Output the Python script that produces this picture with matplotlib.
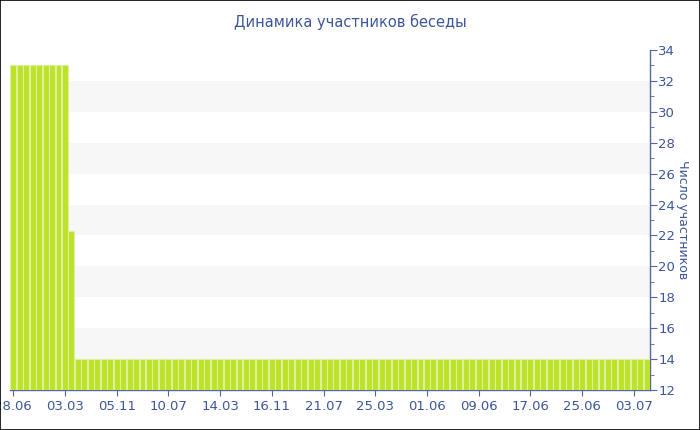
import matplotlib.pyplot as plt
from matplotlib.patches import Rectangle
from matplotlib.ticker import MultipleLocator

# participants per period: 9 high, one partial, then flat
members = [33] * 9 + [22.3] + [14] * 89
tick_pos = [0, 8, 16, 24, 32, 40, 48, 56, 64, 72, 80, 88, 96]
tick_labels = ["28.06", "03.03", "05.11", "10.07", "14.03", "16.11", "21.07",
               "25.03", "01.06", "09.06", "17.06", "25.06", "03.07"]

txt = "#3d569c"
axc = "#5566a8"

fig = plt.figure(figsize=(7, 4.3), dpi=100)
ax = fig.add_axes([10 / 700, 40 / 430, 640 / 700, 340 / 430])

x = list(range(len(members)))
ax.bar(x, members, width=0.92, color="#bde22a", edgecolor="#dcf29a",
       linewidth=0.8, zorder=3)

ax.set_xlim(-0.5, len(members) - 0.5)
ax.set_ylim(12, 34)

# alternating bands
for lo in range(14, 34, 4):
    ax.axhspan(lo, lo + 2, color="#f7f7f7", zorder=0, lw=0)

ax.yaxis.tick_right()
ax.yaxis.set_label_position("right")
ax.yaxis.set_major_locator(MultipleLocator(2))
ax.yaxis.set_minor_locator(MultipleLocator(1))
ax.set_xticks(tick_pos)
ax.set_xticklabels(tick_labels)

for s in ["left", "top"]:
    ax.spines[s].set_visible(False)
for s in ["right", "bottom"]:
    ax.spines[s].set_color(axc)
    ax.spines[s].set_linewidth(1)

ax.tick_params(axis="y", which="major", length=5, color=axc, labelcolor=txt,
               labelsize=9.5, pad=1)
ax.tick_params(axis="y", which="minor", length=3, color=axc)
ax.tick_params(axis="x", length=4, color=axc, labelcolor=txt, labelsize=9.5, pad=3)

ax.set_ylabel("Число участников", rotation=270, color=txt, fontsize=9,
              labelpad=10)
fig.text(350 / 700, 1 - 22 / 430, "Динамика участников беседы", ha="center",
         va="center", color=txt, fontsize=10.5)

fig.patches.append(Rectangle((0, 0), 1, 1, transform=fig.transFigure,
                             fill=False, edgecolor="black", linewidth=1.2))

fig.savefig("out.png", dpi=100)
